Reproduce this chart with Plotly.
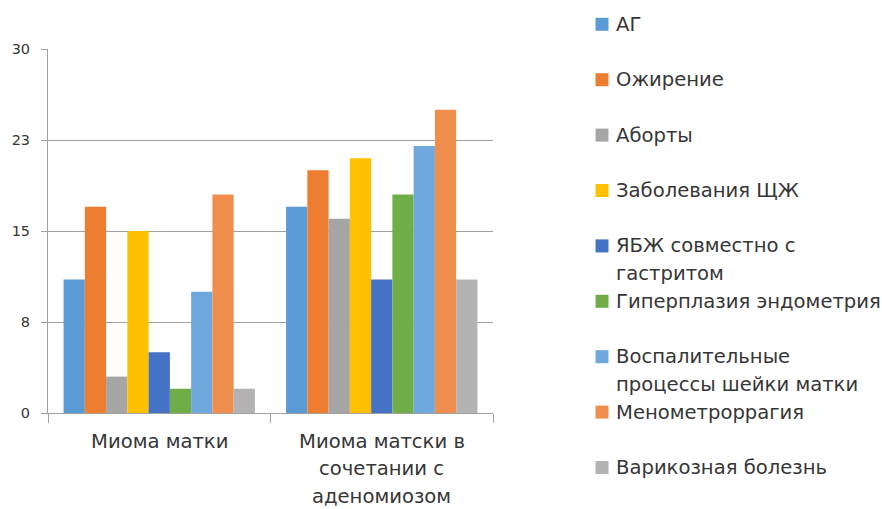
import plotly.graph_objects as go

categories = ["Миома матки", "Миома матски в<br>сочетании с<br>аденомиозом"]
series_names = [
    "АГ",
    "Ожирение",
    "Аборты",
    "Заболевания ЩЖ",
    "ЯБЖ совместно с<br>гастритом",
    "Гиперплазия эндометрия",
    "Воспалительные<br>процессы шейки матки",
    "Менометроррагия",
    "Варикозная болезнь",
]
series_values = [
    [11, 17],
    [17, 20],
    [3, 16],
    [15, 21],
    [5, 11],
    [2, 18],
    [10, 22],
    [18, 25],
    [2, 11],
]
colors = ["#5B9BD5", "#ED7D31", "#A5A5A5", "#FFC000", "#4472C4",
          "#70AD47", "#6FA8DC", "#F08E4E", "#B3B3B3"]
y_tickvals = [0, 7.5, 15, 22.5, 30]
y_ticktext = ["0", "8", "15", "23", "30"]

W, H = 882, 509
L, R, T, B = 46, 493, 49, 413

fig = go.Figure()
for name, vals, col in zip(series_names, series_values, colors):
    fig.add_trace(go.Bar(x=categories, y=vals, name=name.replace("<br>", " "),
                         marker=dict(color=col, line=dict(width=0))))

font_family = "DejaVu Sans, sans-serif"
text_color = "#363636"

def px_to_paper_x(px):
    return (px - L) / (R - L)

def px_to_paper_y(py):
    return (B - py) / (B - T)

annotations = []
shapes = []
row_start, row_step, line_h = 24.3, 55.4, 28
sq = 13
for i, (name, col) in enumerate(zip(series_names, colors)):
    cy = row_start + i * row_step
    shapes.append(dict(type="rect", xref="paper", yref="paper",
                       x0=px_to_paper_x(596), x1=px_to_paper_x(596 + sq),
                       y0=px_to_paper_y(cy + sq / 2), y1=px_to_paper_y(cy - sq / 2),
                       fillcolor=col, line=dict(width=0)))
    for j, line in enumerate(name.split("<br>")):
        annotations.append(dict(text=line, xref="paper", yref="paper",
                                x=px_to_paper_x(615), y=px_to_paper_y(cy + j * line_h),
                                xanchor="left", yanchor="middle", showarrow=False,
                                font=dict(size=19.6, color=text_color, family=font_family)))

# category labels (multi-line, spaced like the reference)
cat_first_line_y, cat_line_h = 441.5, 27.5
for cat in categories:
    for j, line in enumerate(cat.split("<br>")):
        annotations.append(dict(text=line, xref="x", yref="paper", x=cat,
                                y=px_to_paper_y(cat_first_line_y + j * cat_line_h),
                                xanchor="center", yanchor="middle", showarrow=False,
                                font=dict(size=19.6, color=text_color, family=font_family)))

fig.update_layout(
    width=W, height=H,
    margin=dict(l=L, r=W - R, t=T, b=H - B, pad=0),
    paper_bgcolor="white", plot_bgcolor="white",
    barmode="group", bargap=0.14, bargroupgap=0,
    showlegend=False,
    font=dict(family=font_family, color=text_color),
    annotations=annotations, shapes=shapes,
)
fig.update_xaxes(
    type="category", tickson="boundaries", ticks="outside", ticklen=9,
    tickcolor="#A0A0A0", showline=True, linecolor="#A0A0A0", linewidth=1,
    showgrid=False, showticklabels=False,
)
fig.update_yaxes(
    range=[0, 30], tickvals=y_tickvals, ticktext=y_ticktext,
    ticks="outside", ticklen=6, tickcolor="#A0A0A0",
    showline=True, linecolor="#A0A0A0", linewidth=1,
    showgrid=True, gridcolor="#A0A0A0", gridwidth=1, zeroline=False,
    tickfont=dict(size=14.5, color=text_color, family=font_family),
    ticklabelstandoff=8,
)

fig.write_html("out.html")
